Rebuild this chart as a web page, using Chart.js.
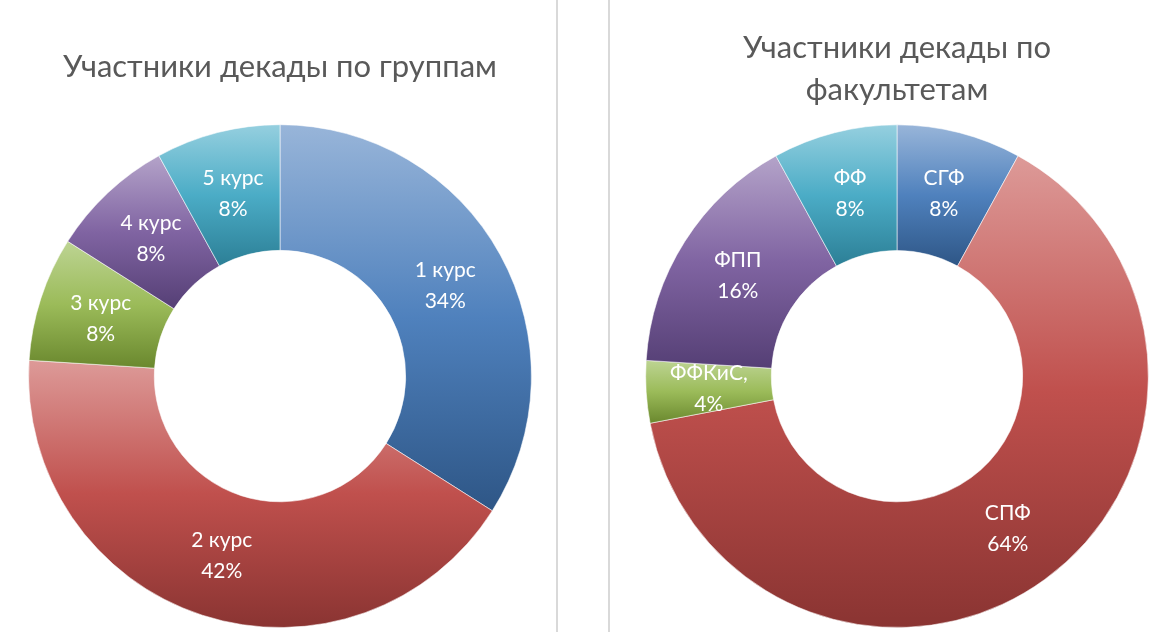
<!DOCTYPE html>
<html>
<head>
<meta charset="utf-8">
<script src="https://cdn.jsdelivr.net/npm/chart.js@4.4.0/dist/chart.umd.min.js"></script>
<style>
    body { margin: 0; background: #fff; width: 1171px; height: 632px; overflow: hidden; position: relative; }
    canvas { position: absolute; top: 0; }
    #groupChart { left: 0; }
    #facultyChart { left: 610px; }
    .sep { position: absolute; top: 0; width: 2px; height: 632px; background: #d9d9d9; }
</style>
</head>
<body>
<canvas id="groupChart" width="557" height="632"></canvas>
<div class="sep" style="left:556px"></div>
<div class="sep" style="left:608px"></div>
<canvas id="facultyChart" width="561" height="632"></canvas>
<script>
// Участники по группам (курсы)
const groupLabels = ["1 курс", "2 курс", "3 курс", "4 курс", "5 курс"];
const groupValues = [34, 42, 8, 8, 8];

// Участники по факультетам
const facultyLabels = ["СГФ", "СПФ", "ФФКиС,", "ФПП", "ФФ"];
const facultyValues = [8, 64, 4, 16, 8];

// light / base / dark for each slice, Office style
const shades = [
    ["#98b5d9", "#4f81bd", "#2e5686"],
    ["#dd9a98", "#c0504d", "#8a3432"],
    ["#bdd493", "#9bbb59", "#6a882e"],
    ["#b4a3c9", "#8064a2", "#553f75"],
    ["#95cfdf", "#4bacc6", "#2c7f96"]
];

const fontName = "Lato, 'Open Sans', sans-serif";

// gradient per slice, top light -> bottom dark
const sliceLook = {
    id: "sliceLook",
    beforeDatasetsDraw(chart) {
        const ctx = chart.ctx;
        const meta = chart.getDatasetMeta(0);
        meta.data.forEach(function (arc, i) {
            const p = arc.getProps(["x", "y", "startAngle", "endAngle", "outerRadius", "innerRadius"], true);
            let ys = [];
            [p.innerRadius, p.outerRadius].forEach(function (r) {
                ys.push(p.y + r * Math.sin(p.startAngle));
                ys.push(p.y + r * Math.sin(p.endAngle));
            });
            for (let k = -2; k <= 2; k++) {
                const top = -Math.PI / 2 + 2 * Math.PI * k;
                const bot = Math.PI / 2 + 2 * Math.PI * k;
                if (top > p.startAngle && top < p.endAngle) ys.push(p.y - p.outerRadius);
                if (bot > p.startAngle && bot < p.endAngle) ys.push(p.y + p.outerRadius);
            }
            const y0 = Math.min.apply(null, ys);
            const y1 = Math.max.apply(null, ys);
            const g = ctx.createLinearGradient(0, y0, 0, y1);
            g.addColorStop(0, shades[i][0]);
            g.addColorStop(0.5, shades[i][1]);
            g.addColorStop(1, shades[i][2]);
            arc.options = Object.assign({}, arc.options, { backgroundColor: g });
        });
    },
    afterDatasetsDraw(chart) {
        const ctx = chart.ctx;
        const meta = chart.getDatasetMeta(0);
        const labels = chart.data.labels;
        const values = chart.data.datasets[0].data;
        ctx.save();
        ctx.fillStyle = "#ffffff";
        ctx.font = "21px " + fontName;
        ctx.textAlign = "center";
        ctx.textBaseline = "middle";
        meta.data.forEach(function (arc, i) {
            const pos = arc.tooltipPosition();
            ctx.fillText(labels[i], pos.x, pos.y - 15);
            ctx.fillText(values[i] + "%", pos.x, pos.y + 16);
        });
        ctx.restore();
    }
};

function makeDonut(id, labels, values, title, titlePad, pad) {
    const ctx = document.getElementById(id).getContext("2d");
    return new Chart(ctx, {
        type: "doughnut",
        data: {
            labels: labels,
            datasets: [{
                data: values,
                backgroundColor: shades.map(s => s[1]),
                borderColor: "rgba(255,255,255,0.55)",
                borderWidth: 1
            }]
        },
        options: {
            responsive: false,
            animation: false,
            cutout: "50%",
            layout: { padding: pad },
            plugins: {
                legend: { display: false },
                tooltip: { enabled: false },
                title: {
                    display: true,
                    text: title,
                    color: "#595959",
                    font: { family: fontName, size: 31, weight: "normal", lineHeight: 1.36 },
                    padding: titlePad
                }
            }
        },
        plugins: [sliceLook]
    });
}

makeDonut("groupChart", groupLabels, groupValues,
    "Участники декады по группам",
    { top: 46, bottom: 36 },
    { left: 28, right: 25, top: 0, bottom: 4 });

makeDonut("facultyChart", facultyLabels, facultyValues,
    ["Участники декады по", "факультетам"],
    { top: 27, bottom: 13 },
    { left: 35, right: 22, top: 0, bottom: 4 });
</script>
</body>
</html>
